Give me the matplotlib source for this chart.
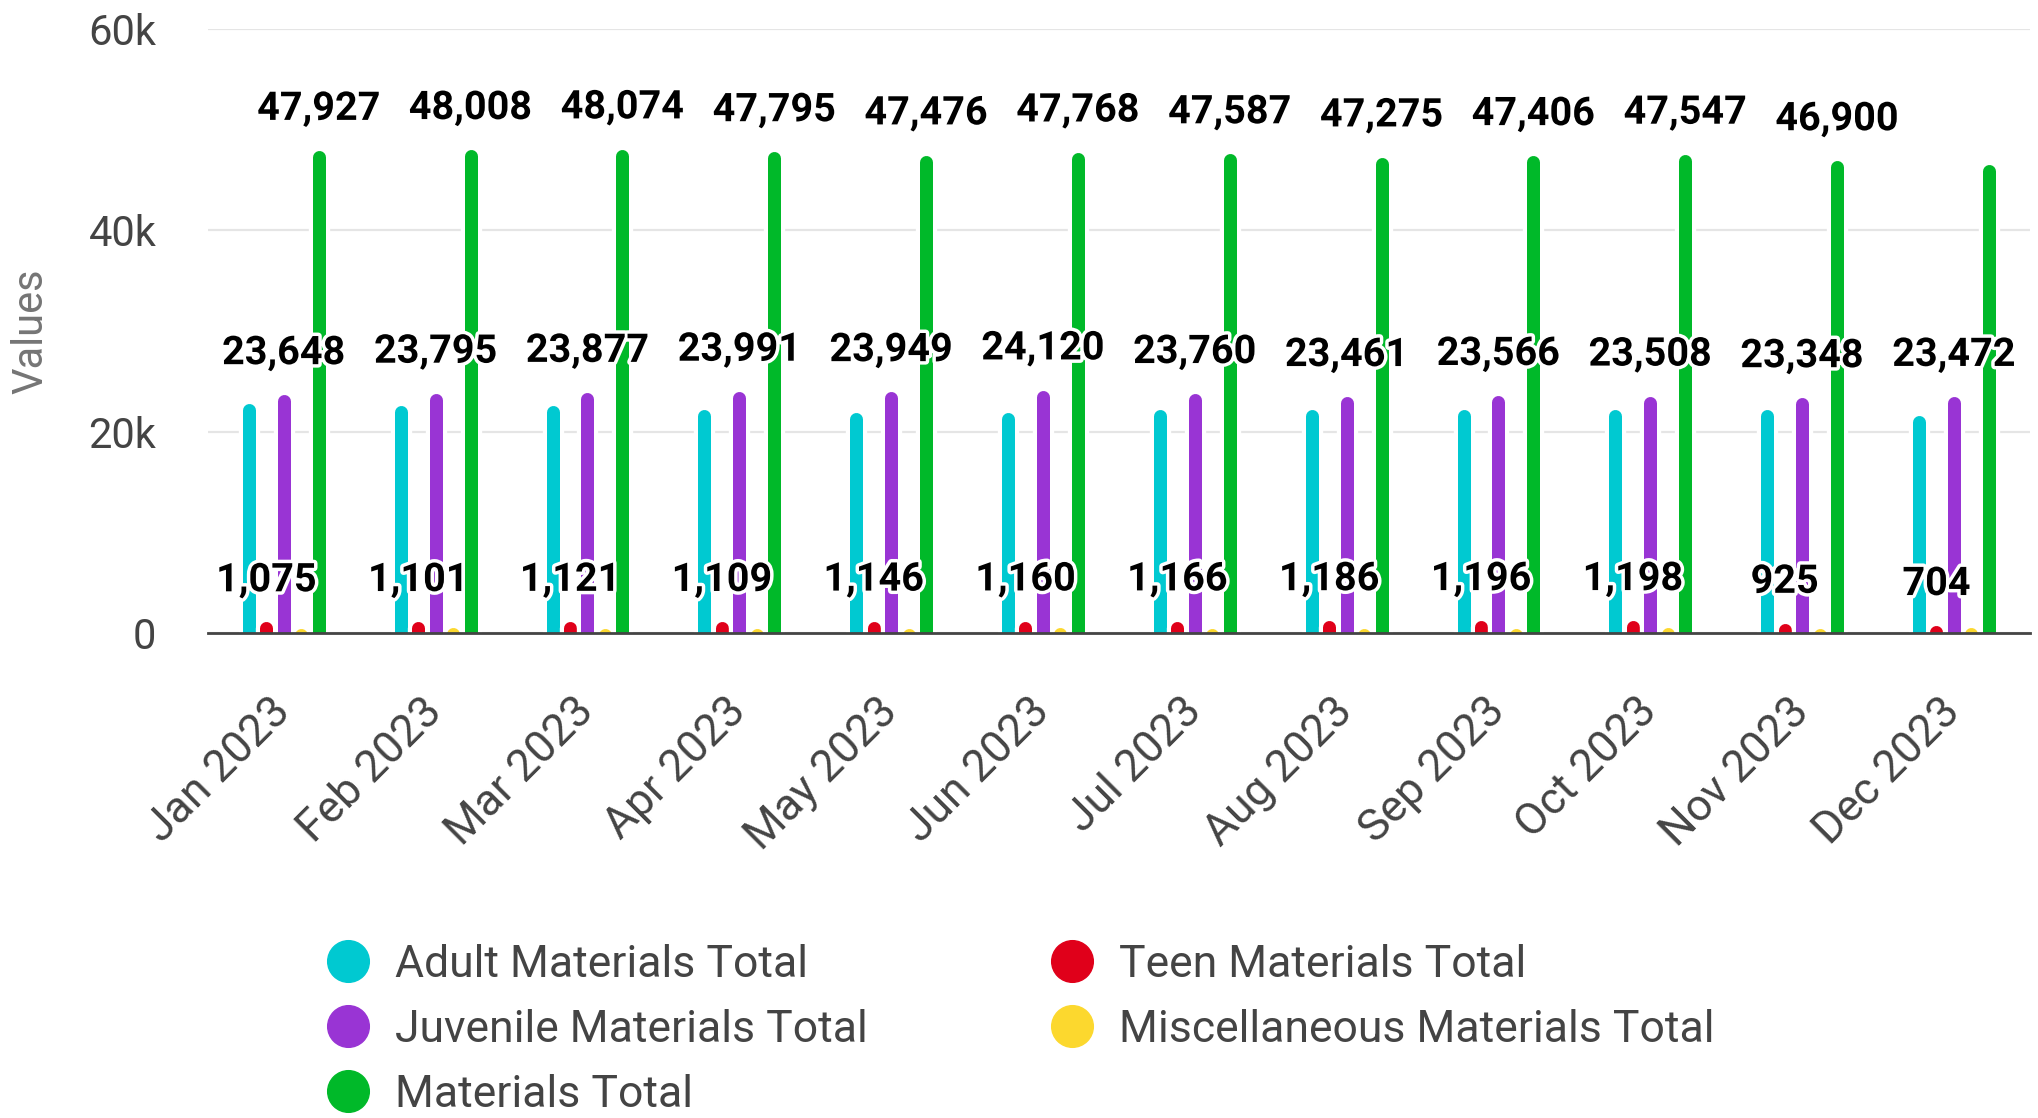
import numpy as np
import matplotlib
matplotlib.use("Agg")
import matplotlib.pyplot as plt
import matplotlib.patheffects as pe
from matplotlib.lines import Line2D

plt.rcParams['font.family'] = ['Roboto', 'DejaVu Sans']

months = ["Jan 2023", "Feb 2023", "Mar 2023", "Apr 2023", "May 2023", "Jun 2023",
          "Jul 2023", "Aug 2023", "Sep 2023", "Oct 2023", "Nov 2023", "Dec 2023"]

adult = [22800, 22600, 22600, 22200, 21900, 21900, 22200, 22200, 22200, 22200, 22200, 21550]
teen = [1075, 1101, 1121, 1109, 1146, 1160, 1166, 1186, 1196, 1198, 925, 704]
juvenile = [23648, 23795, 23877, 23991, 23949, 24120, 23760, 23461, 23566, 23508, 23348, 23472]
misc = [420, 480, 460, 470, 460, 500, 450, 430, 440, 480, 430, 500]
total = [47927, 48008, 48074, 47795, 47476, 47768, 47587, 47275, 47406, 47547, 46900, 46500]

names = ["Adult Materials Total", "Teen Materials Total", "Juvenile Materials Total",
         "Miscellaneous Materials Total", "Materials Total"]
colors = ["#00C9D1", "#E0001A", "#9934D4", "#FCD82E", "#00B929"]
series = [adult, teen, juvenile, misc, total]

fig = plt.figure(figsize=(20.38, 11.18), dpi=100)
ax = fig.add_axes([0.102, 0.434, 0.894, 0.540])

x = np.arange(len(months))
step = 0.115
lw_px = 13
cap = (lw_px / 2) / 10.08 * 1000  # round cap height in data units

for i, (vals, c) in enumerate(zip(series, colors)):
    xs = x + (i - 2) * step
    vals = np.array(vals)
    lc = ax.vlines(xs, -3000, vals - cap, colors=c, lw=lw_px * 0.72, zorder=3)
    lc.set_capstyle('round')
    lc.set_path_effects([pe.Stroke(linewidth=lw_px * 0.72 + 6, foreground='white'), pe.Normal()])

# value labels (teen, juvenile, total); last total label is hidden in the source
for i, vals in [(1, teen), (2, juvenile), (4, total)]:
    for j, v in enumerate(vals):
        if i == 4 and j == len(vals) - 1:
            continue
        ax.annotate(f"{v:,}", (x[j] + (i - 2) * step, v), xytext=(0, 30),
                    textcoords='offset points', ha='center', va='center',
                    fontsize=28.5, fontweight='bold', color='black', zorder=5,
                    path_effects=[pe.withStroke(linewidth=5, foreground='white')])

ax.set_xlim(-0.5, len(months) - 0.5)
ax.set_ylim(0, 60000)
ax.set_yticks([0, 20000, 40000, 60000])
ax.set_yticklabels(["0", "20k", "40k", "60k"])
ax.set_xticks(x)
ax.set_xticklabels(months, rotation=45, ha='right', va='center', rotation_mode='anchor')

ax.tick_params(axis='y', length=0, pad=37, labelsize=30, labelcolor='#444444')
ax.tick_params(axis='x', length=0, pad=52, labelsize=32, labelcolor='#444444')
ax.grid(axis='y', color='#e5e5e5', lw=1.6)
ax.set_axisbelow(True)
for s in ['top', 'right', 'left']:
    ax.spines[s].set_visible(False)
ax.spines['bottom'].set_color('#444444')
ax.spines['bottom'].set_linewidth(2)
ax.spines['bottom'].set_zorder(4)

ax.set_ylabel("Values", fontsize=30, color='#757575', va='center')
ax.yaxis.set_label_coords(-0.097, 0.5)

# legend: column-major order gives rows Adult/Teen, Juvenile/Misc, Total
order = [0, 2, 4, 1, 3]
handles = [Line2D([], [], marker='o', linestyle='', markersize=30,
                  color=colors[k], label=names[k]) for k in order]
fig.legend(handles=handles, loc='upper left', bbox_to_anchor=(0.160, 0.156),
           ncol=2, frameon=False, fontsize=32, labelcolor='#444444',
           handlelength=1.0, handletextpad=0.55, columnspacing=4.1,
           labelspacing=0.52, borderpad=0, borderaxespad=0)

fig.savefig("out.png", dpi=100)
